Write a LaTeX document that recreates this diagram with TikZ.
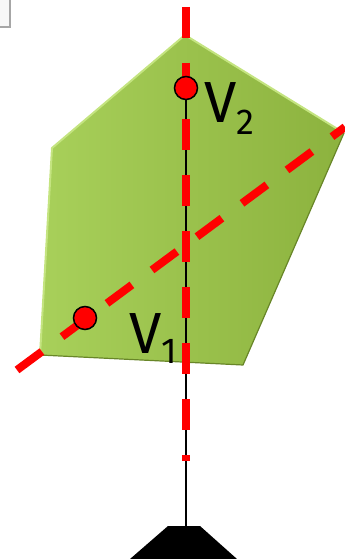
\documentclass[tikz,border=0pt]{standalone}
\usepackage{fontspec}
\setmainfont{Fira Sans}
\usetikzlibrary{calc}

\definecolor{pentlight}{RGB}{168,208,90}
\definecolor{pentdark}{RGB}{140,178,62}
\definecolor{pentedge}{RGB}{196,228,128}
\definecolor{pentshadow}{RGB}{104,134,40}

\begin{document}
\begin{tikzpicture}[
  x=1pt, y=-1pt,
  reddash/.style={draw=red, line width=8pt, dash pattern=on 31pt off 25pt},
  axisline/.style={draw=black, line width=2pt},
  vertex/.style={circle, draw=black, fill=red, line width=1.5pt, minimum size=23pt, inner sep=0pt},
  vlabel/.style={font=\fontsize{58}{60}\selectfont, inner sep=0pt, anchor=base west}
]
  \useasboundingbox (0,0) rectangle (345,559);

  % corner of a window frame
  \fill[gray!6] (0,0) rectangle (10,27);
  \draw[gray!70, line width=1.5pt] (10,0) -- (10,27) -- (0,27);

  % pentagon
  \coordinate (top) at (185,35);
  \coordinate (right) at (344,133);
  \coordinate (botright) at (243,365);
  \coordinate (botleft) at (40,355);
  \coordinate (left) at (52,148);
  \shade[left color=pentlight, right color=pentdark]
    (top) -- (right) -- (botright) -- (botleft) -- (left) -- cycle;
  \draw[pentedge, line width=2pt, line join=round] (botleft) -- (left) -- (top) -- (right);
  \draw[pentshadow, line width=1.2pt, line join=round] (right) -- (botright) -- (botleft);

  % stand
  \coordinate (standtop) at (186,526);
  \fill (168,526) -- (200,526) -- (237,559) -- (130,559) -- cycle;

  % axis through V2
  \coordinate (v2pos) at (186,88);
  \coordinate (v1pos) at (85,318);
  \draw[axisline] (v2pos) -- (standtop);

  % dashed axes
  \coordinate (vtop) at (186,7);
  \coordinate (vbottom) at (186,461);
  \coordinate (dstart) at (17,370);
  \coordinate (dend) at (345,127);
  \draw[reddash] (vtop) -- (vbottom);
  \draw[reddash] (dstart) -- (dend);

  % vertices
  \node[vertex] (v2) at (v2pos) {};
  \node[vertex] (v1) at (v1pos) {};
  \node[vlabel] (v2text) at (204,122) {V\raisebox{-13pt}{\fontsize{36}{36}\selectfont 2}};
  \node[vlabel] (v1text) at (129,353) {V\raisebox{-10pt}{\fontsize{36}{36}\selectfont 1}};
\end{tikzpicture}
\end{document}
